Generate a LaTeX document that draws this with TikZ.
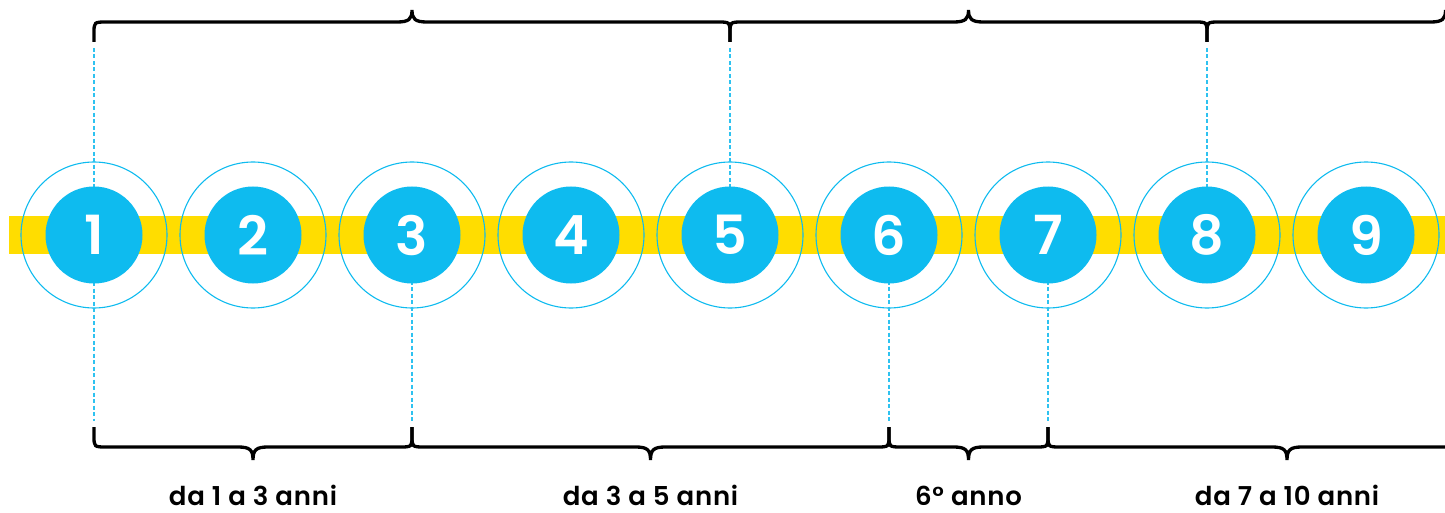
\documentclass[tikz,border=0pt]{standalone}
\usepackage{fontspec}
\setmainfont{Poppins}[BoldFont={* SemiBold}]
\newfontfamily\lblfont{Poppins}[UprightFont={* SemiBold},LetterSpace=3]
\definecolor{cblue}{HTML}{0EBBEF}
\definecolor{dblue}{HTML}{2EC2F0}
\definecolor{cyellow}{HTML}{FFDD00}
\newcommand\mytbrace[2]{%
  \pgfmathsetmacro\bm{(#1+#2)/2}%
  \draw[bracestyle] (#1,42) -- (#1,33) .. controls (#1,22) .. (#1+13,22)
    -- (\bm-15,22) .. controls (\bm-3,22) and (\bm,19) .. (\bm,10)
    .. controls (\bm,19) and (\bm+3,22) .. (\bm+15,22)
    -- (#2-13,22) .. controls (#2,22) .. (#2,33) -- (#2,42);}
\newcommand\mybbrace[2]{%
  \pgfmathsetmacro\bm{(#1+#2)/2}%
  \draw[bracestyle] (#1,427) -- (#1,436) .. controls (#1,447) .. (#1+13,447)
    -- (\bm-15,447) .. controls (\bm-3,447) and (\bm,450) .. (\bm,460)
    .. controls (\bm,450) and (\bm+3,447) .. (\bm+15,447)
    -- (#2-13,447) .. controls (#2,447) .. (#2,436) -- (#2,427);}
\begin{document}
\begin{tikzpicture}[x=1pt,y=-1pt,
  bracestyle/.style={draw=black,line width=3.3pt,line cap=butt},
  guide/.style={draw=dblue,line width=1.2pt,dash pattern=on 4pt off 2.5pt},
  ring/.style={circle,draw=cblue,line width=1.1pt,minimum size=146pt,inner sep=0pt},
  disc/.style={circle,fill=cblue,minimum size=97pt,inner sep=0pt,text=white,
    font=\fontsize{54}{54}\selectfont\bfseries},
  lbl/.style={font=\fontsize{26}{26}\selectfont\lblfont,anchor=base,inner sep=0pt}]
\useasboundingbox (0,0) rectangle (1445,513);
\clip (0,0) rectangle (1445,513);
% yellow bar
\fill[cyellow] (9,216) rectangle (1445,254);
% centre coordinates
\foreach \i in {1,...,9}{
  \pgfmathsetmacro\cx{94+159*(\i-1)}
  \coordinate (p\i) at (\cx,235);
  \node[ring] (r\i) at (p\i) {};
}
% guide end points
\coordinate (t1) at (94,48);
\coordinate (t5) at (730,48);
\coordinate (t8) at (1207,48);
\coordinate (b1) at (94,421);
\coordinate (b3) at (412,421);
\coordinate (b6) at (889,421);
\coordinate (b7) at (1048,421);
\draw[guide] (t1) -- (b1);
\draw[guide] (t5) -- (p5);
\draw[guide] (t8) -- (p8);
\draw[guide] (p3) -- (b3);
\draw[guide] (p6) -- (b6);
\draw[guide] (p7) -- (b7);
% discs
\foreach \i in {1,...,9}{
  \node[disc] (c\i) at (p\i) {\i};
}
% braces
\mytbrace{94}{730}
\mytbrace{730}{1207}
\mytbrace{1207}{1684}
\mybbrace{94}{412}
\mybbrace{412}{889}
\mybbrace{889}{1048}
\mybbrace{1048}{1526}
% labels
\node[lbl] (l1) at (253,505) {da 1 a 3 anni};
\node[lbl] (l2) at (650.5,505) {da 3 a 5 anni};
\node[lbl] (l3) at (968.5,505) {6° anno};
\node[lbl] (l4) at (1287,505) {da 7 a 10 anni};
\end{tikzpicture}
\end{document}
